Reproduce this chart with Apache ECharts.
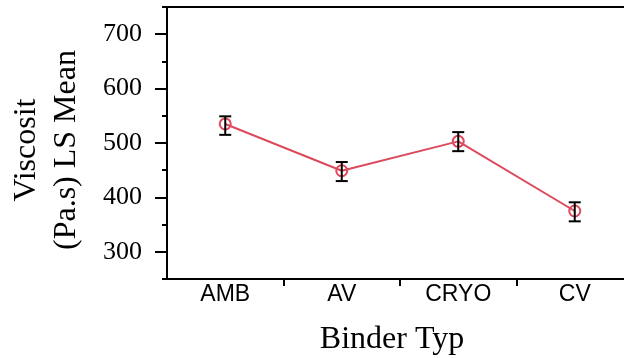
<!DOCTYPE html>
<html>
<head>
<meta charset="utf-8">
<script src="https://cdn.jsdelivr.net/npm/echarts@6/dist/echarts.min.js"></script>
<style>html,body{margin:0;padding:0;background:#fff}#c{width:624px;height:358px}</style>
</head>
<body>
<div id="c"></div>
<script>
var categories = ['AMB', 'AV', 'CRYO', 'CV'];
var means = [535, 449, 503, 375];
var lower = [515, 430, 485, 356];
var upper = [549, 465, 520, 391];
var yMajorTicks = [300, 400, 500, 600, 700];
var yMinorTicks = [250, 350, 450, 550, 650, 750];
var yTitle = 'Viscosit\n(Pa.s) LS Mean';
var xTitle = 'Binder Typ';

var chart = echarts.init(document.getElementById('c'), null, {renderer: 'canvas'});
var errData = categories.map(function (c, i) { return [i, lower[i], upper[i]]; });

chart.setOption({
  animation: false,
  grid: {left: 167, top: 7, width: 466, bottom: 79, outerBoundsMode: 'none', containLabel: false, show: true, borderColor: '#000', borderWidth: 2, backgroundColor: 'transparent'},
  xAxis: {
    type: 'category', data: categories, boundaryGap: true,
    axisLine: {lineStyle: {color: '#000', width: 2}},
    axisTick: {show: true, length: 7, interval: function (i) { return i > 0; }, lineStyle: {color: '#000', width: 2}},
    axisLabel: {color: '#000', fontFamily: 'Liberation Sans', fontSize: 23, margin: 4}
  },
  yAxis: [{
    type: 'value', min: 250, max: 750,
    splitLine: {show: false},
    axisLine: {show: true, lineStyle: {color: '#000', width: 2}},
    axisTick: {show: true, length: 12, customValues: yMajorTicks, lineStyle: {color: '#000', width: 2}},
    axisLabel: {color: '#000', fontFamily: 'Liberation Serif', fontSize: 26, margin: 25, customValues: yMajorTicks}
  }, {
    type: 'value', min: 250, max: 750, position: 'left',
    splitLine: {show: false},
    axisLine: {show: false},
    axisTick: {show: true, length: 5, customValues: yMinorTicks, lineStyle: {color: '#000', width: 2}},
    axisLabel: {show: false}
  }],
  graphic: [{
    type: 'text', x: 47, y: 150, rotation: Math.PI / 2,
    style: {text: yTitle, fontFamily: 'Liberation Serif', fontSize: 32, lineHeight: 40, fill: '#000', align: 'center', verticalAlign: 'middle'}
  }, {
    type: 'text', x: 392, y: 340,
    style: {text: xTitle, fontFamily: 'Liberation Serif', fontSize: 32, fill: '#000', align: 'center', verticalAlign: 'middle'}
  }],
  series: [{
    type: 'line', data: means, yAxisIndex: 0,
    symbol: 'circle', symbolSize: 11,
    lineStyle: {color: '#dc4a5c', width: 2},
    itemStyle: {color: 'rgba(255,255,255,0)', borderColor: '#dc4a5c', borderWidth: 2},
    z: 2
  }, {
    type: 'custom', data: errData, yAxisIndex: 0, z: 3,
    renderItem: function (params, api) {
      var x = api.value(0);
      var lo = api.coord([x, api.value(1)]);
      var hi = api.coord([x, api.value(2)]);
      var w = 6;
      var st = {stroke: '#000', lineWidth: 2};
      return {type: 'group', children: [
        {type: 'line', shape: {x1: lo[0], y1: lo[1], x2: hi[0], y2: hi[1]}, style: st},
        {type: 'line', shape: {x1: lo[0] - w, y1: lo[1], x2: lo[0] + w, y2: lo[1]}, style: st},
        {type: 'line', shape: {x1: hi[0] - w, y1: hi[1], x2: hi[0] + w, y2: hi[1]}, style: st}
      ]};
    }
  }]
});
</script>
</body>
</html>
